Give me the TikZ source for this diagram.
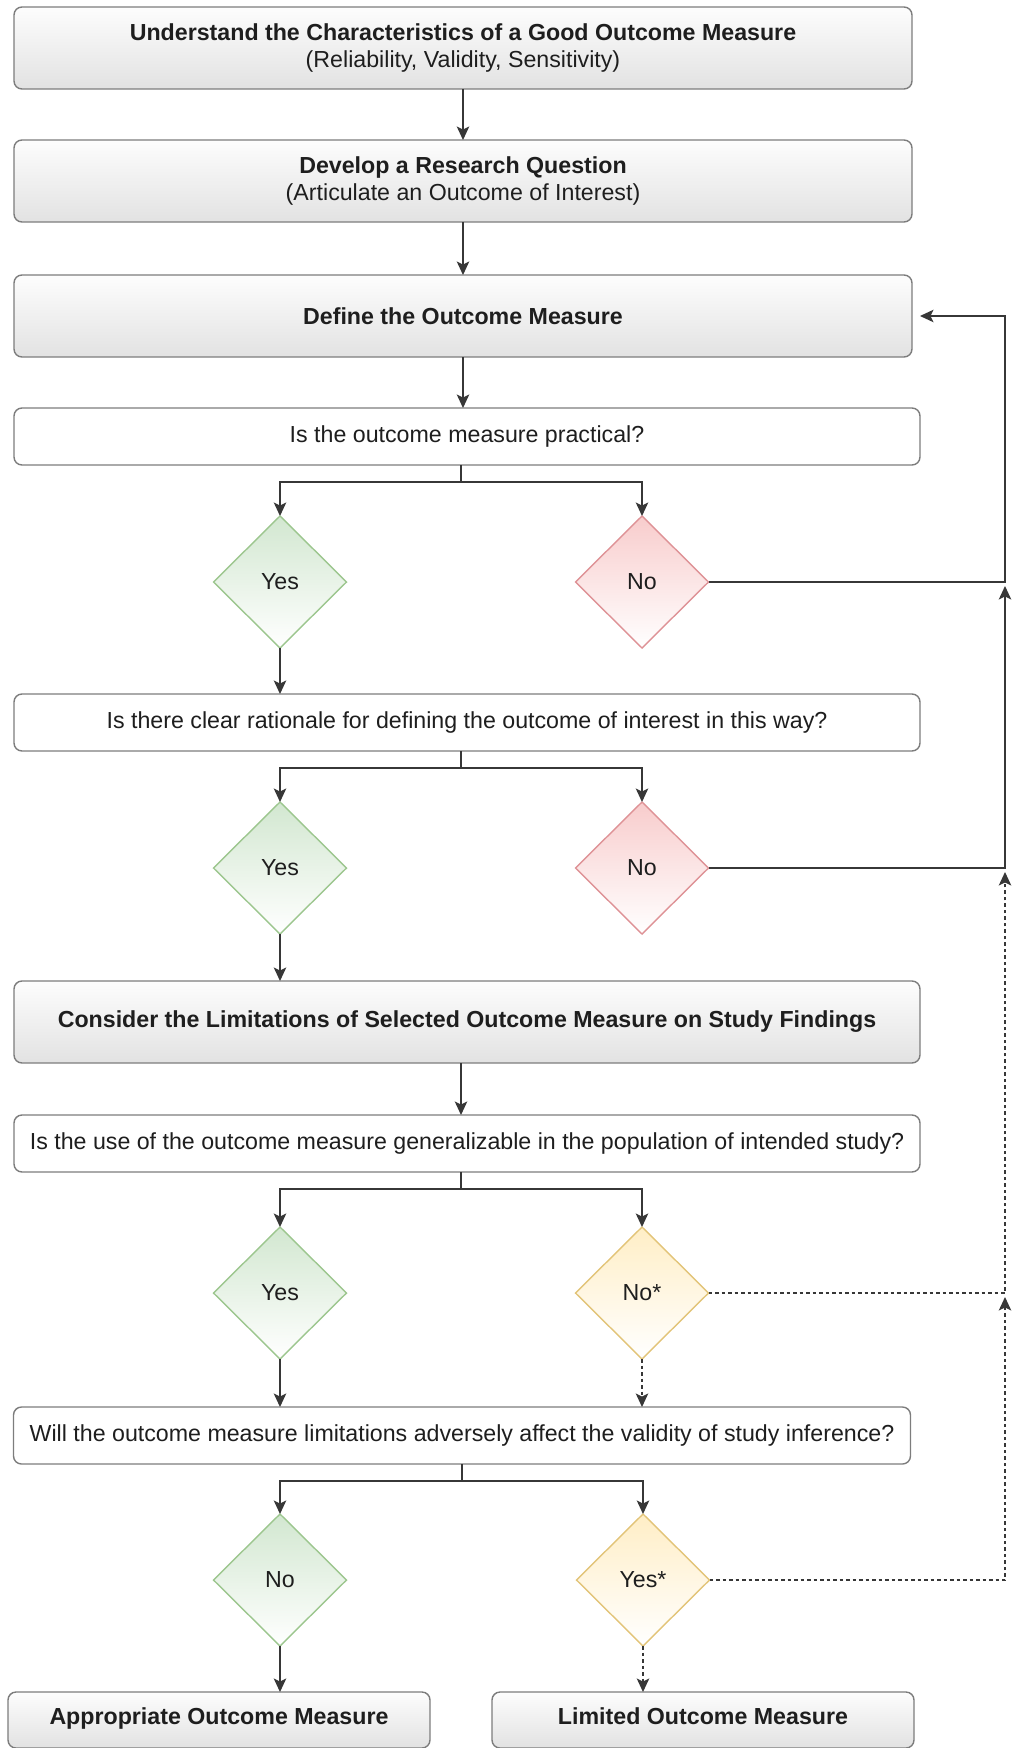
\documentclass[tikz,border=0pt]{standalone}
\usepackage{fontspec}
\setmainfont{Liberation Sans}
\usetikzlibrary{shapes.geometric,arrows.meta,positioning}
\definecolor{cBoxTop}{RGB}{253,253,253}
\definecolor{cBoxBot}{RGB}{226,226,226}
\definecolor{cEdge}{RGB}{125,125,125}
\definecolor{cLine}{RGB}{55,55,55}
\definecolor{cText}{RGB}{30,30,30}
\definecolor{cYesFill}{RGB}{210,231,208}
\definecolor{cYesDraw}{RGB}{156,198,142}
\definecolor{cNoFill}{RGB}{248,204,204}
\definecolor{cNoDraw}{RGB}{222,146,150}
\definecolor{cMaybeFill}{RGB}{255,238,198}
\definecolor{cMaybeDraw}{RGB}{226,196,120}
\tikzset{
  basebox/.style={rectangle,rounded corners=0.16cm,draw=cEdge,line width=0.8pt,
                  align=center,inner sep=0pt,outer sep=0pt,text=cText,
                  font=\fontsize{13.2}{15.8}\selectfont},
  graynode/.style={basebox,top color=cBoxTop,bottom color=cBoxBot,
                   minimum width=17.96cm,minimum height=1.64cm},
  qnode/.style={basebox,fill=white,minimum width=18.12cm,minimum height=1.14cm},
  endnode/.style={basebox,top color=cBoxTop,bottom color=cBoxBot,
                  minimum width=8.44cm,minimum height=1.12cm,
                  text height=0.72em,text depth=0.2em},
  decnode/.style={diamond,aspect=1,minimum width=2.66cm,minimum height=2.64cm,
                  inner sep=0pt,outer sep=0pt,line width=0.8pt,text=cText,
                  font=\fontsize{13.2}{15.8}\selectfont},
  yesdec/.style={decnode,draw=cYesDraw,top color=cYesFill,bottom color=white},
  nodec/.style={decnode,draw=cNoDraw,top color=cNoFill,bottom color=white},
  maybedec/.style={decnode,draw=cMaybeDraw,top color=cMaybeFill,bottom color=white},
  arr/.style={-{Stealth[length=0.27cm,width=0.25cm,inset=0.06cm]},
              line width=0.75pt,draw=cLine},
  dasharr/.style={arr,dash pattern=on 0.07cm off 0.06cm}
}
\begin{document}
\begin{tikzpicture}[node distance=1.02cm]
  \useasboundingbox (0,0) rectangle (20.48,-34.96);
  \node[graynode] (understand) at (9.26,-0.96)
      {\textbf{Understand the Characteristics of a Good Outcome Measure}\\
       (Reliability, Validity, Sensitivity)};
  \node[graynode,below=of understand] (develop)
      {\textbf{Develop a Research Question}\\
       (Articulate an Outcome of Interest)};
  \node[graynode,below=1.06cm of develop] (define)
      {\textbf{Define the Outcome Measure}};
  \node[qnode,below=of define,xshift=0.08cm] (practical)
      {Is the outcome measure practical?};
  \node[yesdec,below=of practical,xshift=-3.74cm] (yesA) {Yes};
  \node[nodec,below=of practical,xshift=3.5cm] (noA) {No};
  \node[qnode,below=0.92cm of yesA,xshift=3.74cm] (rationale)
      {Is there clear rationale for defining the outcome of interest in this way?};
  \node[yesdec,below=of rationale,xshift=-3.74cm] (yesB) {Yes};
  \node[nodec,below=of rationale,xshift=3.5cm] (noB) {No};
  \node[graynode,minimum width=18.12cm,below=0.94cm of yesB,xshift=3.74cm] (consider)
      {\textbf{Consider the Limitations of Selected Outcome Measure on Study Findings}};
  \node[qnode,below=1.04cm of consider] (general)
      {Is the use of the outcome measure generalizable in the population of intended study?};
  \node[yesdec,below=1.1cm of general,xshift=-3.74cm] (yesC) {Yes};
  \node[maybedec,below=1.1cm of general,xshift=3.5cm] (noC) {No*};
  \node[qnode,minimum width=17.94cm,below=0.96cm of yesC,xshift=3.64cm] (inference)
      {Will the outcome measure limitations adversely affect the validity of study inference?};
  \node[yesdec,below=1.0cm of inference,xshift=-3.64cm] (yesD) {No};
  \node[maybedec,below=1.0cm of inference,xshift=3.62cm] (noD) {Yes*};
  \node[endnode,below=0.92cm of yesD,xshift=-1.22cm] (appropriate)
      {\textbf{Appropriate Outcome Measure}};
  \node[endnode,below=0.92cm of noD,xshift=1.2cm] (limited)
      {\textbf{Limited Outcome Measure}};
  \coordinate[right=1.86cm of define.east] (rail);

  % main column
  \foreach \f/\t/\s in {understand/develop/0,develop/define/0,define/practical/0,
                        consider/general/-0.12}
    \draw[arr] ([xshift=\s cm]\f.south) -- ([xshift=\s cm]\f.south |- \t.north);
  % question -> answers
  \foreach \q/\d/\s in {practical/yesA/-0.12,practical/noA/-0.12,
                        rationale/yesB/-0.12,rationale/noB/-0.12,
                        general/yesC/-0.12,general/noC/-0.12,
                        inference/yesD/0,inference/noD/0}
    \draw[arr] ([xshift=\s cm]\q.south) -- ++(0,-0.34) -| (\d.north);
  \foreach \d/\t in {yesA/rationale,yesB/consider,yesC/inference,yesD/appropriate}
    \draw[arr] (\d.south) -- (\d.south |- \t.north);
  \foreach \d/\t in {noC/inference,noD/limited}
    \draw[dasharr] (\d.south) -- (\d.south |- \t.north);
  % loops back to the definition
  \draw[arr,shorten >=0.16cm] (noA.east) -| (rail) -- (define.east);
  \draw[arr,shorten >=0.08cm] (noB.east) -| (rail |- noA.east);
  \draw[dasharr,shorten >=0.08cm] (noC.east) -| (rail |- noB.east);
  \draw[dasharr,shorten >=0.08cm] (noD.east) -| (rail |- noC.east);
\end{tikzpicture}
\end{document}
